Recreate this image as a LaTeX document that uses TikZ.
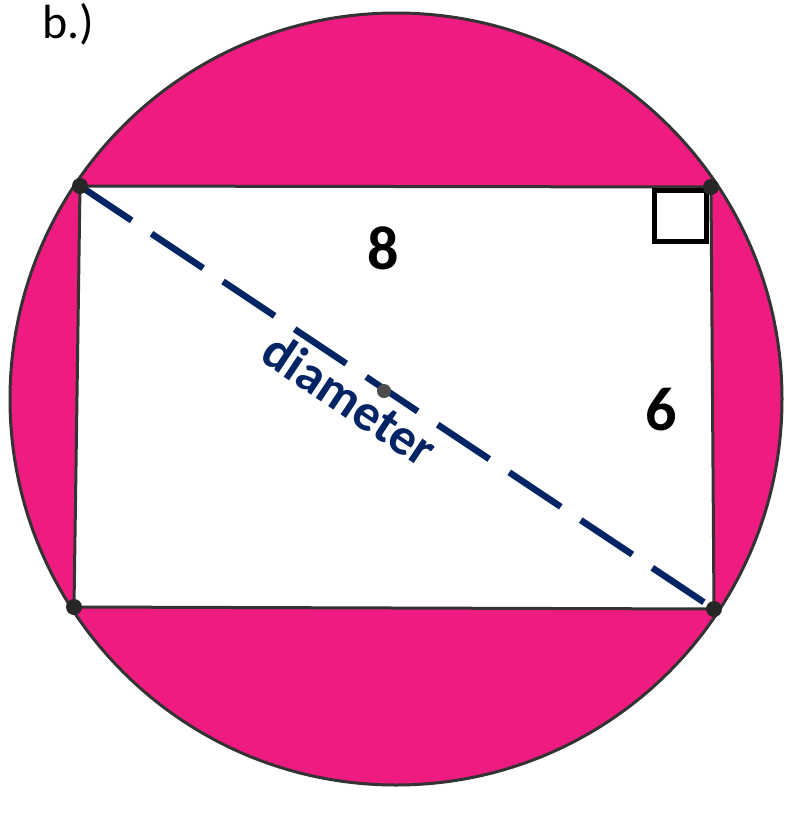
\documentclass[tikz,border=0pt]{standalone}
\usepackage{fontspec}
\setmainfont{Carlito}
\definecolor{segpink}{RGB}{238,28,128}
\definecolor{diagblue}{RGB}{0,36,100}
\begin{document}
\begin{tikzpicture}[
  x=1pt, y=-1pt,
  outline/.style={draw=black!80, line width=3pt},
  sidelabel/.style={font=\fontsize{62}{62}\selectfont\bfseries, inner sep=0pt},
  diag/.style={draw=diagblue, line width=6.5pt, dash pattern=on 62pt off 24pt}
]
\useasboundingbox (0,0) rectangle (787,817);
\coordinate (o) at (396,399);
\coordinate (tl) at (80,186);
\coordinate (tr) at (711,187);
\coordinate (br) at (714,609);
\coordinate (bl) at (74,607);
% circle and inscribed rectangle
\filldraw[outline, fill=segpink] (o) circle (386pt);
\filldraw[outline, fill=white] (tl) -- (tr) -- (br) -- (bl) -- cycle;
% right angle mark
\draw[line width=5pt] (654,190) rectangle (706,241);
% diagonal
\path[diag] (tl) -- (br)
  node[pos=0.45, sloped, anchor=north, inner sep=0pt, yshift=-6pt,
       text=diagblue, font=\fontsize{52}{52}\selectfont\bfseries] (dlabel) {diameter};
% points
\foreach \p in {tl,tr,br,bl} \fill[black!85] (\p) circle (8pt);
\fill[black!70] (384,391) circle (7pt);
% labels
\node[sidelabel] (len) at (383,248) {8};
\node[sidelabel] (wid) at (661,410) {6};
\node[anchor=base west, inner sep=0pt, font=\fontsize{48}{48}\selectfont] (part) at (42,38) {b.)};
\end{tikzpicture}
\end{document}
